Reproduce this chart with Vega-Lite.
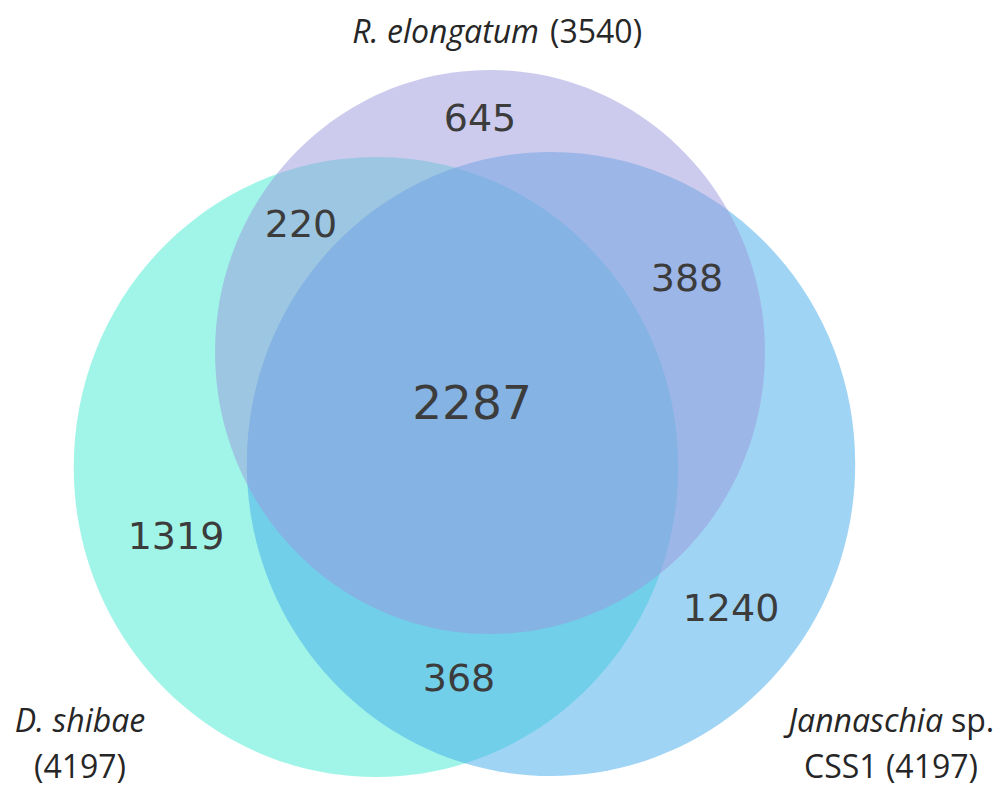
{
  "$schema": "https://vega.github.io/schema/vega-lite/v6.json",
  "width": 1000,
  "height": 786,
  "padding": 0,
  "autosize": {"type": "none"},
  "background": "white",
  "config": {"view": {"stroke": null}},
  "datasets": {
    "circles": [
      {"set": "D. shibae", "cx": 376, "cy": 467, "r": 310},
      {"set": "Jannaschia sp. CSS1", "cx": 551, "cy": 464, "r": 312},
      {"set": "R. elongatum", "cx": 490, "cy": 352, "r": 282}
    ],
    "counts": [
      {"region": "R only", "n": "645", "x": 480, "y": 131},
      {"region": "D+R", "n": "220", "x": 301, "y": 237},
      {"region": "R+J", "n": "388", "x": 687, "y": 291},
      {"region": "all", "n": "2287", "x": 472, "y": 419},
      {"region": "D only", "n": "1319", "x": 176, "y": 549},
      {"region": "J only", "n": "1240", "x": 731, "y": 621},
      {"region": "D+J", "n": "368", "x": 459, "y": 691}
    ],
    "labels": [
      {"id": "re_name", "text": "R. elongatum", "x": 539, "y": 43},
      {"id": "re_n", "text": "(3540)", "x": 550, "y": 43},
      {"id": "ds_name", "text": "D. shibae", "x": 80, "y": 732},
      {"id": "ds_n", "text": "(4197)", "x": 80, "y": 778},
      {"id": "ja_name", "text": "Jannaschia", "x": 943, "y": 732},
      {"id": "ja_sp", "text": "sp.", "x": 951, "y": 732},
      {"id": "ja_n", "text": "CSS1 (4197)", "x": 891, "y": 778}
    ]
  },
  "layer": [
    {
      "data": {"name": "circles"},
      "mark": {
        "type": "point",
        "shape": "M-0.975,0A0.975,1,0,1,1,0.975,0A0.975,1,0,1,1,-0.975,0Z",
        "filled": true,
        "opacity": 0.5,
        "strokeWidth": 0
      },
      "encoding": {
        "x": {"field": "cx", "type": "quantitative", "scale": {"domain": [0, 1000], "nice": false, "zero": false}, "axis": null},
        "y": {"field": "cy", "type": "quantitative", "scale": {"domain": [0, 786], "nice": false, "zero": false, "reverse": true}, "axis": null},
        "size": {"field": "r", "type": "quantitative", "scale": {"type": "pow", "exponent": 2, "domain": [0, 1000], "range": [0, 4000000], "zero": true, "nice": false}, "legend": null},
        "color": {"field": "set", "type": "nominal", "scale": {"domain": ["D. shibae", "Jannaschia sp. CSS1", "R. elongatum"], "range": ["#41ebd1", "#41a9eb", "#9997db"]}, "legend": null}
      }
    },
    {
      "data": {"name": "counts"},
      "transform": [{"filter": "datum.region != 'all'"}],
      "mark": {"type": "text", "font": "DejaVu Sans", "fontSize": 38, "align": "center", "baseline": "alphabetic", "color": "#3c3c3c"},
      "encoding": {
        "x": {"field": "x", "type": "quantitative", "scale": {"domain": [0, 1000]}, "axis": null},
        "y": {"field": "y", "type": "quantitative", "scale": {"domain": [0, 786], "reverse": true}, "axis": null},
        "text": {"field": "n"}
      }
    },
    {
      "data": {"name": "counts"},
      "transform": [{"filter": "datum.region == 'all'"}],
      "mark": {"type": "text", "font": "DejaVu Sans", "fontSize": 47, "align": "center", "baseline": "alphabetic", "color": "#3c3c3c"},
      "encoding": {
        "x": {"field": "x", "type": "quantitative", "axis": null},
        "y": {"field": "y", "type": "quantitative", "axis": null},
        "text": {"field": "n"}
      }
    },
    {
      "data": {"name": "labels"},
      "transform": [{"filter": {"field": "id", "oneOf": ["re_name", "ja_name"]}}],
      "mark": {"type": "text", "font": "Open Sans", "fontSize": 32, "fontStyle": "italic", "align": "right", "baseline": "alphabetic", "color": "#262626"},
      "encoding": {
        "x": {"field": "x", "type": "quantitative", "axis": null},
        "y": {"field": "y", "type": "quantitative", "axis": null},
        "text": {"field": "text"}
      }
    },
    {
      "data": {"name": "labels"},
      "transform": [{"filter": {"field": "id", "oneOf": ["re_n", "ja_sp"]}}],
      "mark": {"type": "text", "font": "Open Sans", "fontSize": 32, "align": "left", "baseline": "alphabetic", "color": "#262626"},
      "encoding": {
        "x": {"field": "x", "type": "quantitative", "axis": null},
        "y": {"field": "y", "type": "quantitative", "axis": null},
        "text": {"field": "text"}
      }
    },
    {
      "data": {"name": "labels"},
      "transform": [{"filter": {"field": "id", "oneOf": ["ds_name"]}}],
      "mark": {"type": "text", "font": "Open Sans", "fontSize": 32, "fontStyle": "italic", "align": "center", "baseline": "alphabetic", "color": "#262626"},
      "encoding": {
        "x": {"field": "x", "type": "quantitative", "axis": null},
        "y": {"field": "y", "type": "quantitative", "axis": null},
        "text": {"field": "text"}
      }
    },
    {
      "data": {"name": "labels"},
      "transform": [{"filter": {"field": "id", "oneOf": ["ds_n", "ja_n"]}}],
      "mark": {"type": "text", "font": "Open Sans", "fontSize": 32, "align": "center", "baseline": "alphabetic", "color": "#262626"},
      "encoding": {
        "x": {"field": "x", "type": "quantitative", "axis": null},
        "y": {"field": "y", "type": "quantitative", "axis": null},
        "text": {"field": "text"}
      }
    }
  ]
}
